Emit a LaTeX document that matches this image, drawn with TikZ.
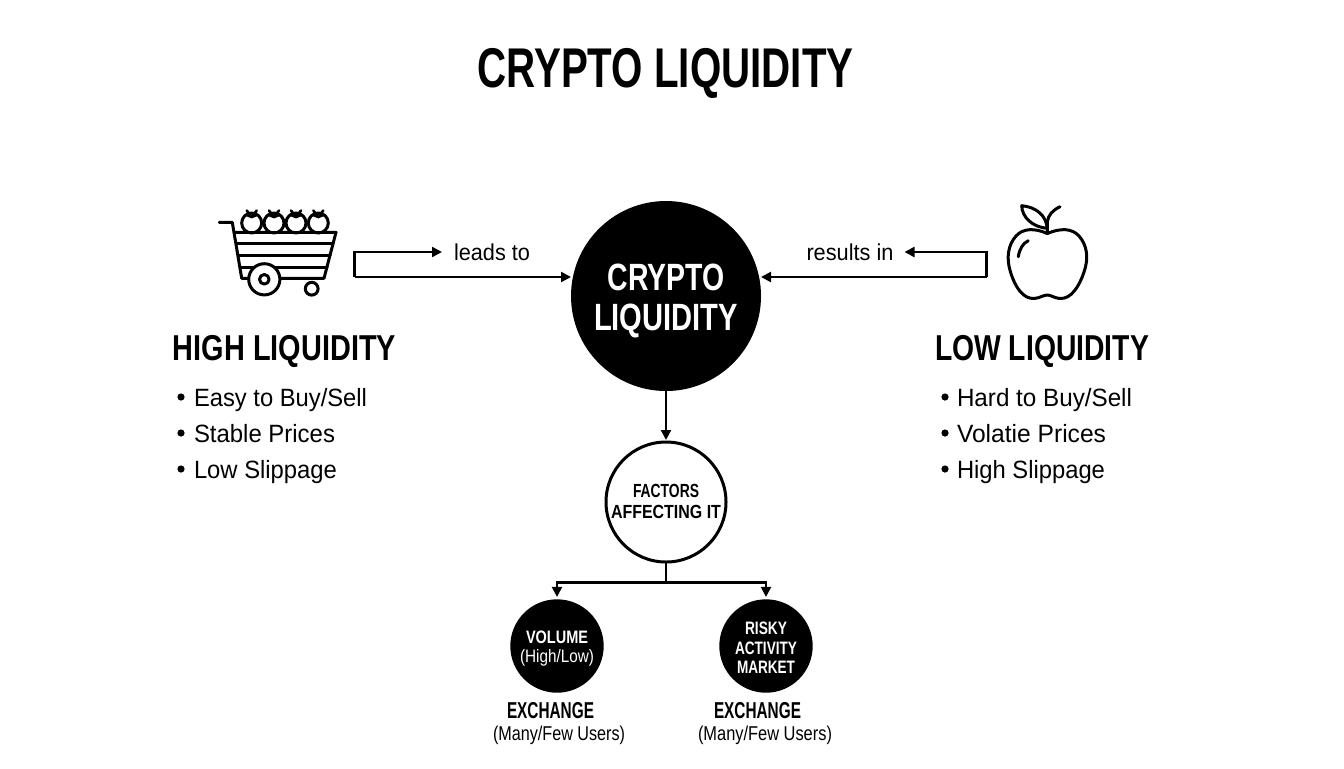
\documentclass[tikz,border=0pt]{standalone}
\usepackage{fontspec}
\usepackage{graphicx}
\setmainfont{Liberation Sans}
\usetikzlibrary{arrows.meta,calc}
\newlength\px \setlength\px{0.5pt}
\newcommand\fit[2]{\resizebox{#1\px}{\height}{#2}}
\newcommand\sz[1]{\fontsize{#1\px}{1.15\dimexpr#1\px\relax}\selectfont}
\tikzset{
  arr/.style={line width=1.1pt,-{Triangle[length=5pt,width=5pt]},shorten >=1pt},
  link/.style={line width=1.1pt},
  icon/.style={line width=1.5pt,line join=round,line cap=round},
  thin icon/.style={line width=1.3pt,line join=round,line cap=round},
  blackdisc/.style={circle,fill=black,text=white,inner sep=0pt,outer sep=0pt,align=center},
  ring/.style={circle,draw=black,line width=1.5pt,fill=white,inner sep=0pt,outer sep=0pt,align=center},
  txt/.style={inner sep=0pt,outer sep=0pt,anchor=base},
  lft/.style={inner sep=0pt,outer sep=0pt,anchor=base west},
  dot/.style={circle,fill=black,inner sep=0pt,minimum size=3.6pt},
}
\begin{document}
\begin{tikzpicture}[x=0.5pt,y=-0.5pt]
\useasboundingbox[fill=white] (0,0) rectangle (1344,768);

\node[txt,font=\sz{56}\bfseries] (title) at (665.5,87) {\fit{376}{CRYPTO LIQUIDITY}};

% central circles
\node[blackdisc,minimum size=95pt,font=\sz{38}\bfseries] (main) at (666,296)
  {\rule{0pt}{36\px}\fit{117}{CRYPTO}\\[-1.7pt]\fit{144}{LIQUIDITY}};
\node[ring,minimum size=60pt,font=\sz{19}\bfseries] (factors) at (666,502)
  {\fit{66}{FACTORS}\\[-0.3pt]\fit{110}{AFFECTING IT}\rule[-2\px]{0pt}{0pt}};
\node[blackdisc,minimum size=46.7pt,font=\sz{18}\bfseries] (volume) at (557,646)
  {\rule{0pt}{17\px}\fit{62}{VOLUME}\\[-0.8pt]\fit{74}{\normalfont (High/Low)}};
\node[blackdisc,minimum size=46.7pt,font=\sz{18}\bfseries] (risky) at (766,646)
  {\rule{0pt}{16\px}\fit{42}{RISKY}\\[-0.5pt]\fit{62}{ACTIVITY}\\[-0.5pt]\fit{58}{MARKET}};

% captions
\node[txt,font=\sz{23}\bfseries] (ex1) at (550.5,718.5) {\fit{87}{EXCHANGE}};
\node[txt,font=\sz{20}] (us1) at (559,740.5) {\fit{132}{(Many/Few Users)}};
\node[txt,font=\sz{23}\bfseries] (ex2) at (757.5,718.5) {\fit{87}{EXCHANGE}};
\node[txt,font=\sz{20}] (us2) at (765,740.5) {\fit{134}{(Many/Few Users)}};

% side headings
\node[txt,font=\sz{36}\bfseries] (hi) at (284.5,360) {\fit{223}{HIGH LIQUIDITY}};
\node[txt,font=\sz{36}\bfseries] (lo) at (1042,360) {\fit{214}{LOW LIQUIDITY}};

% bullet lists
\foreach \n/\y/\w/\t in {a/397/173/Easy to Buy\slash Sell,b/433/141/Stable Prices,c/469/143/Low Slippage}{
  \node[dot] (hd\n) at (181,\y) {};
  \node[lft,font=\sz{25}] (ht\n) at (194,\y+9) {\fit{\w}{\t}};
}
\foreach \n/\y/\w/\t in {a/397/175/Hard to Buy\slash Sell,b/433/149/Volatie Prices,c/469/148/High Slippage}{
  \node[dot] (ld\n) at (945,\y) {};
  \node[lft,font=\sz{25}] (lt\n) at (957,\y+9) {\fit{\w}{\t}};
}

% connector labels
\node[txt,font=\sz{23}] (leads) at (492,260) {\fit{76}{leads to}};
\node[txt,font=\sz{23}] (results) at (850,260) {\fit{87}{results in}};

% connector anchors
\coordinate (hport) at (354.5,277);
\coordinate (lport) at (986.5,277);
\coordinate (ltip) at ($(leads.west)+(-10,0)$);
\coordinate (rtip) at ($(results.east)+(9,0)$);
\coordinate (ltiph) at (ltip |- 0,252);
\coordinate (rtiph) at (rtip |- 0,252);

\draw[arr,shorten >=0pt] (hport) -- (main.west |- hport);
\draw[arr,shorten >=0pt] (lport) -- (main.east |- lport);
\draw[arr] (hport) -- (hport |- ltiph) -- (ltiph);
\draw[arr] (lport) -- (lport |- rtiph) -- (rtiph);
\draw[arr] (main.south) -- (factors.north);
\coordinate (fork) at (666,582.5);
\draw[link] (factors.south) -- (fork);
\draw[arr,shorten >=1.2pt] (fork) -| (volume.north);
\draw[arr,shorten >=1.2pt] (fork) -| (risky.north);

% cart icon
\begin{scope}[icon]
  \draw (219.3,222.3) -- (232.3,222.3) -- (241.7,278.3) -- (324,278.3) -- (336,232.3) -- (235,232.3);
  \draw (237,243.5) -- (333,243.5);
  \draw (239,255.5) -- (330,255.5);
  \draw (241,267.5) -- (327,267.5);
  \foreach \x in {251.7,274,296,318.3}{
    \draw[fill=white] (\x,223) circle (5pt);
    \draw[thin icon] (\x-5,210.5) -- (\x,217) -- (\x+5,210.5);
    \draw[thin icon] (\x-5,215) -- (\x,217) -- (\x+5,215);
  }
  \draw (235,232.3) -- (336,232.3);
  \draw[fill=white] (264.3,279.3) circle (7.8pt);
  \draw (264.3,279.3) circle (2.4pt);
  \draw[fill=white] (311.7,288.7) circle (3.2pt);
\end{scope}

% apple icon
\begin{scope}[icon]
  \draw (1047.3,233.5)
    .. controls (1060,228) and (1072,228) .. (1079,236)
    .. controls (1087,245) and (1089,258) .. (1084,272)
    .. controls (1079,287) and (1071,299) .. (1060,298.5)
    .. controls (1054,298) and (1051,295) .. (1047.3,295)
    .. controls (1043.5,295) and (1040,298) .. (1034,298.5)
    .. controls (1023,299) and (1015,287) .. (1010.5,272)
    .. controls (1006,258) and (1008,245) .. (1016,236)
    .. controls (1023,228) and (1035,228) .. (1047.3,233.5);
  \draw (1047.3,233.5) -- (1047.3,222) .. controls (1048,215) and (1053,210) .. (1060,206.7);
  \draw (1047.3,228.3) .. controls (1046,215) and (1036,207) .. (1021.7,205.7)
    .. controls (1022,217) and (1032,227) .. (1047.3,228.3);
  \draw (1028.3,240.7) .. controls (1023,243) and (1019.5,249) .. (1018.3,256.7);
\end{scope}
\end{tikzpicture}
\end{document}
